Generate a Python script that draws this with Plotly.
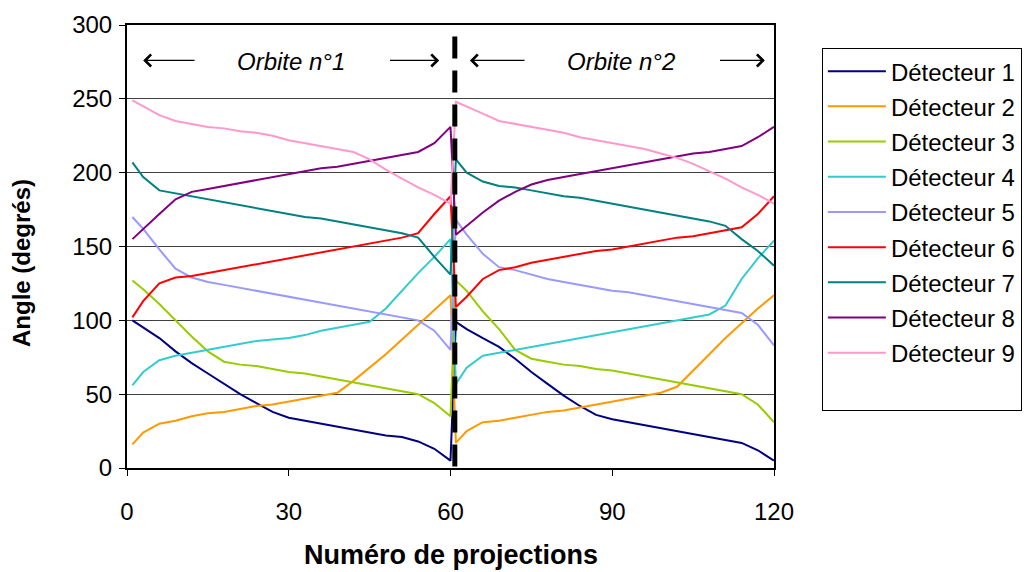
import plotly.graph_objects as go

# projection numbers (orbit 1 then orbit 2)
projections = [1, 3, 6, 9, 12, 15, 18, 21, 24, 27, 30, 33, 36, 39, 42, 45, 48, 51, 54, 57, 60,
               61, 63, 66, 69, 72, 75, 78, 81, 84, 87, 90, 93, 96, 99, 102, 105, 108, 111, 114, 117, 120]

# angles (degrees), orbit 1 + orbit 2
det1 = [100, 95, 88, 79, 71, 64, 57, 50, 44, 38, 34, 32, 30, 28, 26, 24, 22, 21, 18, 13, 5,
        99, 94, 88, 82, 74, 65, 57, 49, 42, 36, 33, 31, 29, 27, 25, 23, 21, 19, 17, 12, 5]
det2 = [16, 24, 30, 32, 35, 37, 38, 40, 42, 43, 45, 47, 49, 51, 59, 68, 77, 87, 97, 107, 117,
        17, 25, 31, 32, 34, 36, 38, 39, 41, 43, 45, 47, 49, 51, 55, 66, 77, 88, 98, 108, 117]
det3 = [127, 121, 111, 100, 89, 79, 72, 70, 69, 67, 65, 64, 62, 60, 58, 56, 54, 52, 50, 44, 35,
        127, 120, 106, 94, 80, 74, 72, 70, 69, 67, 66, 64, 62, 60, 58, 56, 54, 52, 50, 43, 31]
det4 = [56, 65, 73, 76, 78, 80, 82, 84, 86, 87, 88, 90, 93, 95, 97, 99, 108, 120, 132, 143, 155,
        57, 68, 76, 78, 80, 82, 84, 86, 88, 90, 92, 94, 96, 98, 100, 102, 104, 110, 128, 142, 154]
det5 = [170, 162, 148, 135, 129, 126, 124, 122, 120, 118, 116, 114, 112, 110, 108, 106, 104, 102, 100, 93, 80,
        168, 158, 145, 136, 134, 131, 128, 126, 124, 122, 120, 119, 117, 115, 113, 111, 109, 107, 105, 97, 83]
det6 = [102, 113, 125, 129, 130, 132, 134, 136, 138, 140, 142, 144, 146, 148, 150, 152, 154, 156, 159, 172, 184,
        109, 116, 128, 134, 136, 139, 141, 143, 145, 147, 148, 150, 152, 154, 156, 157, 159, 161, 163, 172, 184]
det7 = [207, 197, 188, 186, 184, 182, 180, 178, 176, 174, 172, 170, 169, 167, 165, 163, 161, 159, 156, 143, 131,
        209, 200, 194, 191, 190, 188, 186, 184, 183, 181, 179, 177, 175, 173, 171, 169, 167, 164, 155, 147, 137]
det8 = [155, 162, 172, 182, 187, 189, 191, 193, 195, 197, 199, 201, 203, 204, 206, 208, 210, 212, 214, 220, 231,
        158, 164, 173, 181, 187, 192, 195, 197, 199, 201, 203, 205, 207, 209, 211, 213, 214, 216, 218, 224, 231]
det9 = [249, 245, 239, 235, 233, 231, 230, 228, 227, 225, 222, 220, 218, 216, 214, 209, 202, 196, 190, 185, 179,
        248, 245, 240, 235, 233, 231, 229, 227, 224, 222, 220, 218, 216, 213, 210, 206, 201, 196, 190, 185, 179]

detectors = [det1, det2, det3, det4, det5, det6, det7, det8, det9]
names = [f"Détecteur {i}" for i in range(1, 10)]
colours = ["#000080", "#FF9900", "#99CC00", "#33CCCC", "#9999FF",
           "#FF0000", "#008080", "#800080", "#FF99CC"]

FONT = "Liberation Sans, Arial, sans-serif"

fig = go.Figure()
for vals, name, col in zip(detectors, names, colours):
    fig.add_trace(go.Scatter(
        x=projections,
        y=vals,
        mode='lines',
        name=name,
        legendgroup=name,
        line=dict(color=col, width=2),
    ))
# blank legend row, the original box has extra room under the last entry
fig.add_trace(go.Scatter(x=[None], y=[None], mode='lines', name=' ', legendgroup='blank',
                         line=dict(color='rgba(0,0,0,0)'), hoverinfo='skip'))

# separation between the two orbits
fig.add_shape(type='line', xref='x', yref='y', x0=60.8, x1=60.8, y0=1, y1=297,
              line=dict(color='black', width=5, dash='22px,12px'), layer='above')

# orbit labels with arrows
for cx, label in [(30.4, "Orbite n°1"), (91.6, "Orbite n°2")]:
    fig.add_annotation(x=cx, y=275, text=f"<i>{label}</i>", showarrow=False,
                       font=dict(size=24, color='black', family=FONT))
arrows = [(3.0, 12.8), (57.9, 48.5), (63.6, 74.0), (118.3, 109.7)]  # (head, tail)
for head, tail in arrows:
    fig.add_annotation(x=head, y=276, ax=tail, ay=276, xref='x', yref='y', axref='x', ayref='y',
                       text='', showarrow=True, arrowhead=4, arrowsize=1.8, arrowwidth=1.3,
                       arrowcolor='black')

# axis titles placed where the original has them
fig.add_annotation(x=0.5008, y=-0.1964, xref='paper', yref='paper', showarrow=False,
                   xanchor='center', yanchor='middle',
                   text="<b>Numéro de projections</b>", font=dict(size=27, family=FONT))
fig.add_annotation(x=-0.1623, y=0.4628, xref='paper', yref='paper', showarrow=False,
                   xanchor='center', yanchor='middle',
                   textangle=-90, text="<b>Angle (degrés)</b>", font=dict(size=24, family=FONT))

fig.update_layout(
    width=1026,
    height=564,
    margin=dict(l=119, r=260, t=17, b=104),
    plot_bgcolor='white',
    paper_bgcolor='white',
    font=dict(family=FONT, size=24, color='black'),
    xaxis=dict(
        range=[0, 120],
        tickvals=[0, 30, 60, 90, 120],
        ticks='outside', ticklen=6, tickcolor='black',
        ticklabelstandoff=15, automargin=False,
        showgrid=False, zeroline=False,
        showline=True, linecolor='black', linewidth=2, mirror=True,
    ),
    yaxis=dict(
        range=[0, 300],
        tickvals=[0, 50, 100, 150, 200, 250, 300],
        ticks='outside', ticklen=6, tickcolor='black',
        ticklabelstandoff=2, automargin=False,
        showgrid=True, gridcolor='#404040', gridwidth=1, zeroline=False,
        showline=True, linecolor='black', linewidth=2, mirror=True,
    ),
    legend=dict(
        x=1.074, y=0.948, xanchor='left', yanchor='top',
        bordercolor='black', borderwidth=1, bgcolor='white',
        font=dict(size=24), traceorder='grouped', tracegroupgap=1, itemwidth=58,
    ),
)

fig.write_html("out.html")
